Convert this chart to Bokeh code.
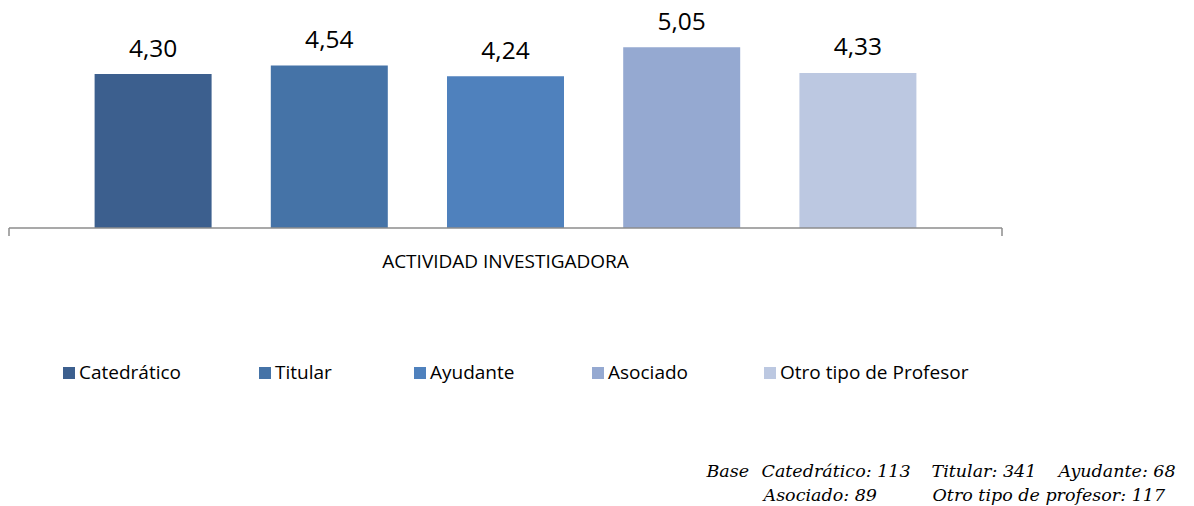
from bokeh.plotting import figure
from bokeh.models import ColumnDataSource, Range1d, Legend, LegendItem, Label
from bokeh.embed import file_html
from bokeh.resources import INLINE
from bokeh.core.properties import value

# ---- data ----
categories = ["Catedrático", "Titular", "Ayudante", "Asociado", "Otro tipo de Profesor"]
values = [4.30, 4.54, 4.24, 5.05, 4.33]
group_label = "ACTIVIDAD INVESTIGADORA"
base_names = ["Catedrático", "Titular", "Ayudante", "Asociado", "Otro tipo de profesor"]
base_counts = [113, 341, 68, 89, 117]
colors = ["#3C5F8E", "#4573A7", "#4F81BD", "#95A9D1", "#BCC8E1"]

# ---- layout ----
W, H = 1194, 506
unit = 176.2      # px per category slot
cx = 505.0        # px position of the middle slot
py = 35.8         # px per value unit
base_px = 227.5   # px from top of the baseline

n = len(categories)
mid = (n - 1) / 2
x_range = Range1d(mid - cx / unit, mid + (W - cx) / unit)
y_range = Range1d(-(H - base_px) / py, base_px / py)

p = figure(width=W, height=H, x_range=x_range, y_range=y_range,
           x_axis_type=None, y_axis_type=None, toolbar_location=None,
           output_backend="svg", min_border=0, outline_line_color=None)
p.xgrid.visible = False
p.ygrid.visible = False

labels = [f"{v:.2f}".replace(".", ",") for v in values]
source = ColumnDataSource(dict(x=list(range(n)), top=values, color=colors,
                               label=labels, cat=categories))

r = p.vbar(x="x", top="top", bottom=0, width=0.664, fill_color="color",
           line_color=None, source=source)

# category axis line with end ticks
half = 993 / 2 / unit
tick = 8 / py
axis_col = "#8C8C8C"
p.segment(x0=[mid - half], y0=[0], x1=[mid + half], y1=[0],
          line_color=axis_col, line_width=1.5)
p.segment(x0=[mid - half, mid + half], y0=[0, 0], x1=[mid - half, mid + half],
          y1=[-tick, -tick], line_color=axis_col, line_width=1.5)

# value labels
p.text(x="x", y="top", text="label", source=source, text_align="center",
       text_baseline="alphabetic", y_offset=-26, text_font=value("Open Sans"),
       text_font_size="24.5px", text_color="#000000")

# category label
p.text(x=[mid], y=[0], text=[group_label], text_align="center",
       text_baseline="alphabetic", y_offset=33, text_font=value("Open Sans"),
       text_font_size="19px", text_color="#000000")

# legends (one per item, positioned like the original)
leg_x = [61, 257, 412, 590, 762]
for i, cat in enumerate(categories):
    lg = Legend(items=[LegendItem(label=cat, renderers=[r], index=i)],
                location=(leg_x[i], 121), orientation="horizontal",
                glyph_width=15, glyph_height=15, label_standoff=3,
                padding=0, margin=0, spacing=0, border_line_color=None,
                background_fill_alpha=0, label_text_font="Open Sans",
                label_text_font_size="19px", label_text_color="#000000",
                label_height=15)
    p.add_layout(lg, "center")

# base note
note_font = dict(text_font="DejaVu Serif", text_font_style="italic",
                 text_font_size="17.5px", text_color="#000000",
                 text_baseline="alphabetic", x_units="screen", y_units="screen")
note_line1 = ["Base"] + [f"{base_names[k]}: {base_counts[k]}" for k in range(3)]
note_x1 = [706, 761, 931, 1058]
note_line2 = [f"{base_names[k]}: {base_counts[k]}" for k in range(3, 5)]
note_x2 = [763, 932]
for t, x in zip(note_line1, note_x1):
    p.add_layout(Label(x=x, y=36, text=t, **note_font))
for t, x in zip(note_line2, note_x2):
    p.add_layout(Label(x=x, y=12, text=t, **note_font))

open("out.html", "w").write(file_html(p, INLINE))
